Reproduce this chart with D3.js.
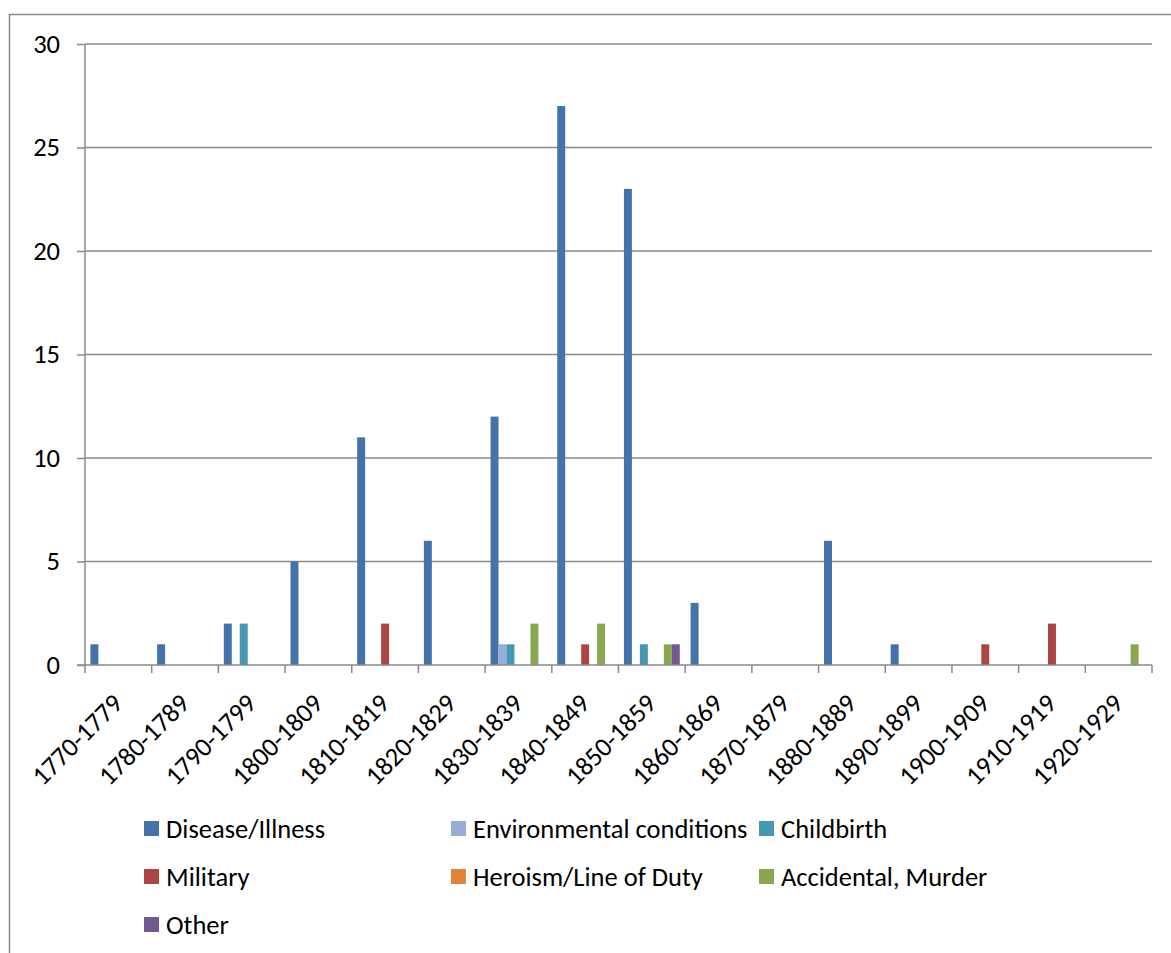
<!DOCTYPE html>
<html>
<head>
<meta charset="utf-8">
<script src="https://cdn.jsdelivr.net/npm/d3@7"></script>
<style>
  html, body { margin: 0; padding: 0; background: #fff; }
  svg { display: block; }
  text { font-family: Calibri, Carlito, Lato, "Open Sans", sans-serif; fill: #000; }
</style>
</head>
<body>
<svg id="chart" width="1171" height="953"></svg>
<script>
// Decades on the category axis
const decades = ["1770-1779","1780-1789","1790-1799","1800-1809","1810-1819","1820-1829",
  "1830-1839","1840-1849","1850-1859","1860-1869","1870-1879","1880-1889",
  "1890-1899","1900-1909","1910-1919","1920-1929"];

// Cause-of-death series, one count per decade
const seriesNames = ["Disease/Illness","Environmental conditions","Childbirth","Military",
  "Heroism/Line of Duty","Accidental, Murder","Other"];
const diseaseIllness   = [1,1,2,5,11,6,12,27,23,3,0,6,1,0,0,0];
const environmental    = [0,0,0,0,0,0,1,0,0,0,0,0,0,0,0,0];
const childbirth       = [0,0,2,0,0,0,1,0,1,0,0,0,0,0,0,0];
const military         = [0,0,0,0,2,0,0,1,0,0,0,0,0,1,2,0];
const heroism          = [0,0,0,0,0,0,0,0,0,0,0,0,0,0,0,0];
const accidentalMurder = [0,0,0,0,0,0,2,2,1,0,0,0,0,0,0,1];
const other            = [0,0,0,0,0,0,0,0,1,0,0,0,0,0,0,0];
const seriesValues = [diseaseIllness, environmental, childbirth, military, heroism, accidentalMurder, other];
const seriesColors = ["#4672ab","#97add6","#4499b0","#ab4644","#e0843b","#8aa64f","#71598f"];

const yTicks = [0,5,10,15,20,25,30];

const svg = d3.select("#chart");
const plot = { left: 85, right: 1152, top: 44, bottom: 665 };
const fontSize = 26.5;

// Outer chart frame
svg.append("rect")
  .attr("x", 9.5).attr("y", 14.5)
  .attr("width", 1180).attr("height", 1000)
  .attr("fill", "none").attr("stroke", "#8a8a8a").attr("stroke-width", 1.5);

const x = d3.scaleBand().domain(decades).range([plot.left, plot.right]).paddingInner(0).paddingOuter(0);
const inner = d3.scaleBand().domain(d3.range(seriesNames.length))
  .range([0, x.bandwidth()]).paddingInner(0).paddingOuter(0.68);
const y = d3.scaleLinear().domain([0, 30]).range([plot.bottom, plot.top]);

// Horizontal gridlines with short tick stubs on the left
const yAxis = d3.axisLeft(y).tickValues(yTicks).tickSize(8).tickPadding(17).tickFormat(d3.format("d"));
const gy = svg.append("g").attr("transform", `translate(${plot.left},0)`).call(yAxis);
gy.select(".domain").remove();
gy.selectAll(".tick line").attr("stroke", "#8a8a8a").attr("stroke-width", 1.5);
gy.selectAll(".tick text").attr("font-size", fontSize).style("font-family", null);
gy.attr("font-family", null).attr("font-size", null);

svg.append("g").selectAll("line").data(yTicks.filter(d => d > 0)).join("line")
  .attr("x1", plot.left).attr("x2", plot.right)
  .attr("y1", d => y(d)).attr("y2", d => y(d))
  .attr("stroke", "#8a8a8a").attr("stroke-width", 1.5);

// Value axis line
svg.append("line")
  .attr("x1", plot.left).attr("x2", plot.left)
  .attr("y1", plot.top).attr("y2", plot.bottom)
  .attr("stroke", "#8a8a8a").attr("stroke-width", 1.5);

// Bars grouped by decade
const groups = svg.append("g").selectAll("g").data(decades).join("g")
  .attr("transform", d => `translate(${x(d)},0)`);
groups.selectAll("rect")
  .data((d, i) => seriesValues.map((vals, s) => ({ s, v: vals[i] })).filter(e => e.v > 0))
  .join("rect")
  .attr("x", e => inner(e.s))
  .attr("width", inner.bandwidth())
  .attr("y", e => y(e.v))
  .attr("height", e => y(0) - y(e.v))
  .attr("fill", e => seriesColors[e.s]);

// Category axis with ticks at category boundaries
const boundaries = d3.range(decades.length + 1).map(i => plot.left + i * x.bandwidth());
svg.append("g").selectAll("line").data(boundaries).join("line")
  .attr("x1", d => d).attr("x2", d => d)
  .attr("y1", plot.bottom).attr("y2", plot.bottom + 8)
  .attr("stroke", "#8a8a8a").attr("stroke-width", 1.5);
svg.append("line")
  .attr("x1", plot.left - 8).attr("x2", plot.right)
  .attr("y1", plot.bottom).attr("y2", plot.bottom)
  .attr("stroke", "#8a8a8a").attr("stroke-width", 1.5);

svg.append("g").selectAll("text").data(decades).join("text")
  .attr("transform", d => `translate(${x(d) + x.bandwidth() / 2 + 6},${plot.bottom + 40}) rotate(-45)`)
  .attr("text-anchor", "end")
  .attr("font-size", fontSize)
  .text(d => d);

// Legend
const legendCols = [144, 451, 759];
const legendRows = [828.5, 876.5, 924.5];
const legend = svg.append("g").selectAll("g").data(seriesNames).join("g")
  .attr("transform", (d, i) => `translate(${legendCols[i % 3]},${legendRows[Math.floor(i / 3)]})`);
legend.append("rect")
  .attr("x", 0).attr("y", -7.5).attr("width", 15).attr("height", 15)
  .attr("fill", (d, i) => seriesColors[i]);
legend.append("text")
  .attr("x", 22).attr("y", 0).attr("dy", "0.35em")
  .attr("font-size", fontSize)
  .text(d => d);
</script>
</body>
</html>
